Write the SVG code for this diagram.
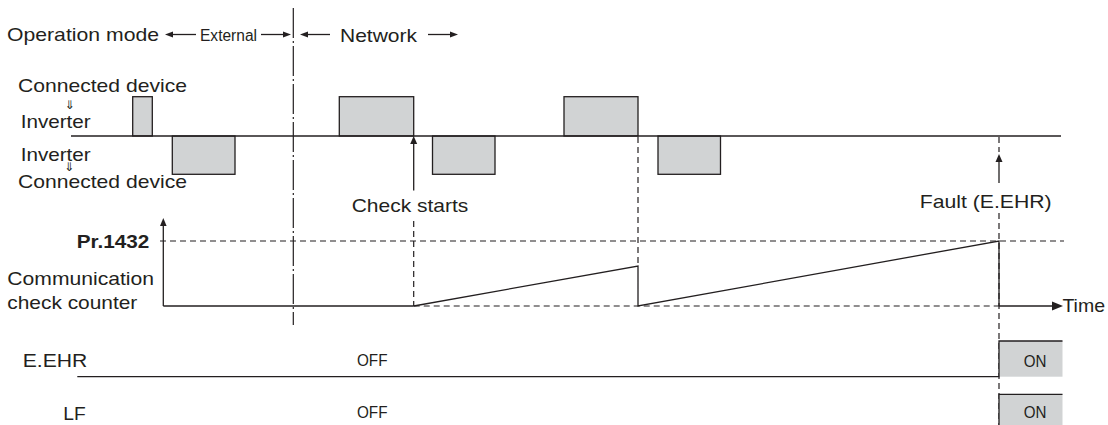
<svg xmlns="http://www.w3.org/2000/svg" width="1108" height="425" viewBox="0 0 1108 425">
<style>
text{font-family:"Liberation Sans",Arial,sans-serif;fill:#231f20;font-size:18.5px}
.c{font-size:16px}
.b{font-weight:bold}
.ln{stroke:#231f20;stroke-width:1.3;fill:none}
.dl{stroke:#231f20;stroke-width:1.2;fill:none;stroke-dasharray:6 4}
.dd{stroke:#231f20;stroke-width:1.2;fill:none;stroke-dasharray:30 3 2 3}
.pl{fill:#d1d3d4;stroke:#231f20;stroke-width:1.3}
.ah{fill:#231f20}
.dn{font-family:"DejaVu Sans",sans-serif;font-size:12px;fill:#231f20}
</style>
<rect width="1108" height="425" fill="#fff"/>

<g id="header">
<text x="7" y="41" textLength="152" lengthAdjust="spacingAndGlyphs">Operation mode</text>
<line class="ln" x1="170" y1="34.5" x2="196" y2="34.5"/>
<polygon class="ah" points="165,34.5 173,31.5 173,37.5"/>
<text class="c" x="200" y="41" textLength="57" lengthAdjust="spacingAndGlyphs">External</text>
<line class="ln" x1="261" y1="34.5" x2="286" y2="34.5"/>
<polygon class="ah" points="291,34.5 283,31.5 283,37.5"/>
<line class="ln" x1="305" y1="34.5" x2="330" y2="34.5"/>
<polygon class="ah" points="300,34.5 308,31.5 308,37.5"/>
<text x="340" y="41.5" textLength="77" lengthAdjust="spacingAndGlyphs">Network</text>
<line class="ln" x1="428" y1="34.5" x2="453" y2="34.5"/>
<polygon class="ah" points="458,34.5 450,31.5 450,37.5"/>
</g>

<line id="mode-boundary" class="dd" x1="293.3" y1="8" x2="293.3" y2="325"/>

<g id="labels">
<text x="18" y="92" textLength="169" lengthAdjust="spacingAndGlyphs">Connected device</text>
<text class="dn" x="69.5" y="109" text-anchor="middle">⇓</text>
<text x="20.7" y="128.3" textLength="70" lengthAdjust="spacingAndGlyphs">Inverter</text>
<text x="20.7" y="160.7" textLength="70" lengthAdjust="spacingAndGlyphs">Inverter</text>
<text class="dn" x="69" y="170.5" text-anchor="middle">⇓</text>
<text x="18" y="188.3" textLength="169" lengthAdjust="spacingAndGlyphs">Connected device</text>
<text class="b" x="76.7" y="248.3" textLength="72.6" lengthAdjust="spacingAndGlyphs">Pr.1432</text>
<text x="7.3" y="285" textLength="146.7" lengthAdjust="spacingAndGlyphs">Communication</text>
<text x="7.3" y="309.3" textLength="130" lengthAdjust="spacingAndGlyphs">check counter</text>
<text x="22.7" y="367.3" textLength="64.6" lengthAdjust="spacingAndGlyphs">E.EHR</text>
<text x="63.3" y="420" textLength="22.4" lengthAdjust="spacingAndGlyphs">LF</text>
</g>

<g id="communication">
<rect class="pl" x="132.7" y="96.7" width="19.6" height="39.3"/>
<rect class="pl" x="172.3" y="136" width="62.7" height="38.3"/>
<rect class="pl" x="339.3" y="96.7" width="74.4" height="39.3"/>
<rect class="pl" x="432.5" y="136" width="62.5" height="38.3"/>
<rect class="pl" x="564" y="96.7" width="74" height="39.3"/>
<rect class="pl" x="658" y="136" width="62.5" height="38.3"/>
<line class="ln" x1="71" y1="136" x2="1061" y2="136"/>
</g>

<g id="check-starts">
<line class="ln" x1="413.7" y1="142" x2="413.7" y2="190.5"/>
<polygon class="ah" points="413.7,136 410.2,144 417.2,144"/>
<text x="351.7" y="211.7" textLength="116.6" lengthAdjust="spacingAndGlyphs">Check starts</text>
</g>

<g id="fault">
<line class="dl" x1="999" y1="137" x2="999" y2="152"/>
<line class="ln" x1="999" y1="160" x2="999" y2="183"/>
<polygon class="ah" points="999,154 995.5,162 1002.5,162"/>
<text x="919.7" y="207.5" textLength="132" lengthAdjust="spacingAndGlyphs">Fault (E.EHR)</text>
<line class="dl" x1="999" y1="213" x2="999" y2="425"/>
</g>

<g id="counter">
<line class="ln" x1="163.3" y1="224" x2="163.3" y2="306"/>
<polygon class="ah" points="163.3,218 160,226 166.6,226"/>
<line class="dl" x1="160" y1="241" x2="1064" y2="241"/>
<line class="dl" x1="413.7" y1="221" x2="413.7" y2="306"/>
<line class="dl" x1="638" y1="137" x2="638" y2="264"/>
<line class="ln" x1="163.3" y1="306" x2="413.7" y2="306"/>
<line class="dl" x1="413.7" y1="306" x2="999" y2="306"/>
<polyline class="ln" points="413.7,306 638,266 638,306 999,241 999,306"/>
<line class="ln" x1="999" y1="306" x2="1053" y2="306"/>
<polygon class="ah" points="1063,306 1052,301.5 1052,310.5"/>
<text x="1062.4" y="312" textLength="42.6" lengthAdjust="spacingAndGlyphs">Time</text>
</g>

<g id="eehr">
<rect x="999" y="341" width="63.5" height="35.7" fill="#d1d3d4"/>
<polyline class="ln" points="77.3,376.7 999,376.7 999,341 1062.5,341"/>
<text class="c" x="357" y="365.7" textLength="30.5" lengthAdjust="spacingAndGlyphs">OFF</text>
<text class="c" x="1035" y="366.7" text-anchor="middle" textLength="22.7" lengthAdjust="spacingAndGlyphs">ON</text>
</g>

<g id="lf">
<rect x="999" y="394.3" width="63.5" height="31" fill="#d1d3d4"/>
<polyline class="ln" points="999,425 999,394.3 1062.5,394.3"/>
<text class="c" x="357" y="418.3" textLength="30.5" lengthAdjust="spacingAndGlyphs">OFF</text>
<text class="c" x="1035" y="418" text-anchor="middle" textLength="22.7" lengthAdjust="spacingAndGlyphs">ON</text>
</g>
</svg>
